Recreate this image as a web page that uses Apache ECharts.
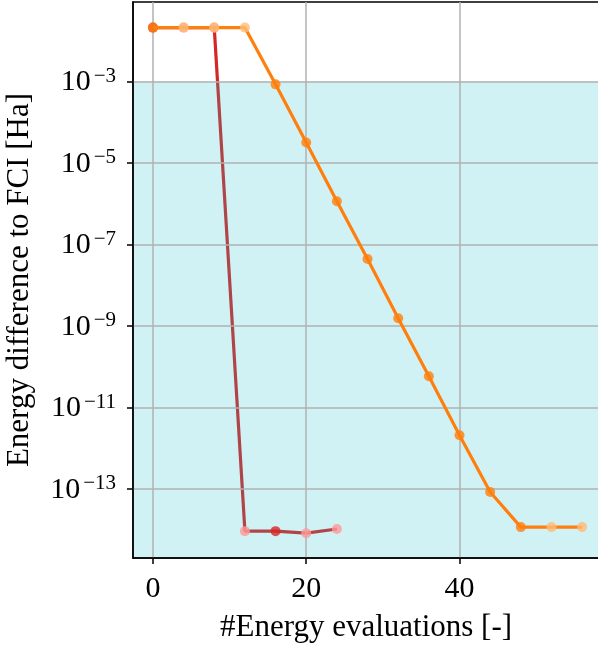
<!DOCTYPE html>
<html>
<head>
<meta charset="utf-8">
<script src="https://cdn.jsdelivr.net/npm/echarts@6/dist/echarts.min.js"></script>
<style>
  html, body { margin: 0; padding: 0; background: #fff; }
  #main { width: 598px; height: 651px; }
</style>
</head>
<body>
<div id="main"></div>
<script>
// energy evaluations and energy error (Ha)
var evalsOrange = [0, 4, 8, 12, 16, 20, 24, 28, 32, 36, 40, 44, 48, 52, 56];
var errOrange = [2.1e-2, 2.1e-2, 2.1e-2, 2.1e-2, 8.5e-4, 3.2e-5, 1.15e-6, 4.4e-8, 1.56e-9, 5.9e-11, 2.1e-12, 8.5e-14, 1.17e-14, 1.17e-14, 1.17e-14];
var acceptOrange = [1, 0, 0, 0, 1, 1, 1, 1, 1, 1, 1, 1, 1, 0, 0];

var evalsRed = [0, 4, 8, 12, 16, 20, 24];
var errRed = [2.1e-2, 2.1e-2, 2.1e-2, 9.3e-15, 9.3e-15, 8.3e-15, 1.05e-14];
var acceptRed = [1, 0, 0, 0, 1, 0, 0];

var chemAcc = 1e-3;
var yTicks = [-13, -11, -9, -7, -5, -3];
var xTicks = [0, 20, 40];

var fontFam = '"Liberation Serif", "DejaVu Serif", serif';

function toPts(xs, ys) {
    return xs.map(function (x, i) { return [x, Math.log10(ys[i])]; });
}
function colored(xs, ys, acc, dark, light) {
    return xs.map(function (x, i) {
        return { value: [x, Math.log10(ys[i])], itemStyle: { color: acc[i] ? dark : light } };
    });
}

var myChart = echarts.init(document.getElementById('main'));

var option = {
    animation: false,
    grid: { left: 133, top: 2, width: 466, bottom: 93, show: true, borderColor: '#000', borderWidth: 1.5, outerBoundsMode: 'none', containLabel: false },
    xAxis: {
        type: 'value', min: -2.6, max: 58.2, z: 3,
        name: '#Energy evaluations [-]', nameLocation: 'middle', nameGap: 54,
        nameTextStyle: { fontFamily: fontFam, fontSize: 31, color: '#000' },
        axisLine: { show: true, onZero: false, lineStyle: { color: '#000', width: 1.5 } },
        axisTick: { show: true, length: 6, lineStyle: { color: '#000', width: 1.5 }, customValues: xTicks },
        axisLabel: { fontFamily: fontFam, fontSize: 30, color: '#000', margin: 16, customValues: xTicks },
        splitLine: { show: true, lineStyle: { color: '#b0b0b0', width: 1.5 } }
    },
    yAxis: {
        type: 'value', min: -14.69, max: -1.05, z: 3,
        name: 'Energy difference to FCI [Ha]', nameLocation: 'middle', nameGap: 98,
        nameTextStyle: { fontFamily: fontFam, fontSize: 31, color: '#000' },
        axisLine: { show: true, onZero: false, lineStyle: { color: '#000', width: 1.5 } },
        axisTick: { show: true, length: 6, lineStyle: { color: '#000', width: 1.5 }, customValues: yTicks },
        axisLabel: {
            margin: 17, customValues: yTicks,
            formatter: function (v) { return '{b|10}{s|\u2212' + Math.abs(v) + '}'; },
            rich: {
                b: { fontFamily: fontFam, fontSize: 30, color: '#000', lineHeight: 32, verticalAlign: 'bottom' },
                s: { fontFamily: fontFam, fontSize: 21, color: '#000', lineHeight: 20, verticalAlign: 'top', padding: [0, 0, 0, 3] }
            }
        },
        splitLine: { show: true, lineStyle: { color: '#b0b0b0', width: 1.5 } }
    },
    series: [
        {
            // red trace line (sits under the shaded region and grid lines)
            type: 'line', z: 1, data: toPts(evalsRed, errRed), symbol: 'none',
            lineStyle: { color: '#d62728', width: 3.2 }
        },
        {
            // chemical accuracy region
            type: 'line', z: 2, data: [[-2.6, Math.log10(chemAcc)], [58.2, Math.log10(chemAcc)]],
            symbol: 'none', lineStyle: { width: 0 },
            areaStyle: { color: 'rgba(23,190,207,0.2)', opacity: 1, origin: 'start' }
        },
        {
            type: 'scatter', z: 4, symbolSize: 10,
            data: colored(evalsRed, errRed, acceptRed, '#d62728', '#ff9896')
        },
        {
            type: 'line', z: 5, data: toPts(evalsOrange, errOrange), symbol: 'none',
            lineStyle: { color: '#ff7f0e', width: 3.2 }
        },
        {
            type: 'scatter', z: 6, symbolSize: 10,
            data: colored(evalsOrange, errOrange, acceptOrange, '#ff7f0e', '#ffbb78')
        }
    ]
};
myChart.setOption(option);
window.onresize = function () { myChart.resize(); };
</script>
</body>
</html>
